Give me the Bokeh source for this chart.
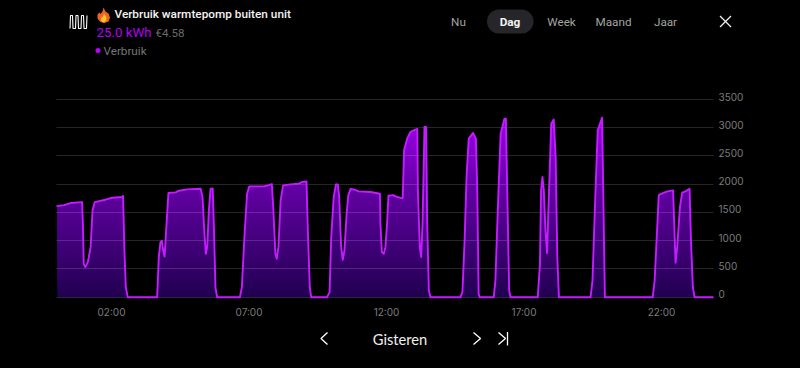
from bokeh.plotting import figure
from bokeh.embed import file_html
from bokeh.resources import INLINE
from bokeh.layouts import column
from bokeh.models import Range1d, FixedTicker, LinearAxis
from bokeh.core.properties import value

# ---- data ----
hours = [0.00,.27,.51,.93,.96,.99,1.05,1.14,1.24,1.31,1.39,1.78,2.02,2.39,2.42,2.47,2.52,2.59,
 3.66,3.72,3.78,3.83,3.88,3.93,3.98,4.07,4.33,4.45,4.75,5.24,5.31,5.38,5.43,5.48,5.54,5.60,5.68,5.72,5.78,5.84,
 6.67,6.74,6.84,6.93,7.01,7.54,7.72,7.83,7.88,7.96,8.01,8.07,8.15,8.24,8.51,8.81,8.93,9.09,9.14,9.21,9.26,
 9.84,9.93,9.99,10.08,10.16,10.23,10.28,10.35,10.41,10.47,10.55,10.61,10.69,10.81,10.99,11.42,11.76,11.78,11.83,11.90,11.96,
 12.02,12.07,12.24,12.33,12.57,12.59,12.64,12.75,12.87,13.05,13.12,13.14,13.21,13.26,13.31,13.38,13.44,13.48,13.54,13.60,
 14.69,14.76,14.84,14.91,14.99,15.15,15.25,15.30,15.35,15.39,15.90,15.96,16.05,16.15,16.29,16.34,16.39,16.46,16.51,
 17.50,17.58,17.62,17.67,17.72,17.78,17.84,17.89,17.99,18.08,18.15,18.21,18.27,
 19.42,19.49,19.60,19.68,19.84,19.88,19.94,
 21.68,21.75,21.82,21.90,21.96,22.21,22.42,22.47,22.51,22.57,22.67,22.75,22.87,23.02,23.07,23.14,23.20,23.89]
verbruik = [1613,1631,1667,1684,1300,591,532,620,886,1536,1684,1726,1761,1773,1797,827,177,0,
 0,709,975,999,827,721,1123,1844,1856,1885,1909,1920,1773,1123,768,886,1536,1915,1927,1300,177,0,
 0,177,1123,1832,1962,1962,1985,2003,1596,768,680,886,1714,1980,1998,2009,2039,2051,1182,177,0,
 0,89,1064,1773,1998,1998,1773,886,662,827,1477,1803,1915,1909,1873,1862,1832,1300,798,768,886,
 1300,1797,1808,1785,1749,1773,2600,2807,2925,2967,2979,1891,886,709,1300,3014,3014,1300,118,0,
 0,89,1005,2128,2807,2908,2807,1891,59,0,0,295,1596,2896,3162,3162,1891,118,0,
 0,591,1891,2128,1891,1182,780,1596,3073,3144,2482,709,0,
 0,295,1891,2955,3179,1891,0,
 0,295,1005,1803,1826,1873,1891,1182,609,886,1596,1850,1873,1920,1005,177,0,0]
y_ticks = [0, 500, 1000, 1500, 2000, 2500, 3000, 3500]
x_ticks = [2, 7, 12, 17, 22]
x_tick_labels = ["02:00", "07:00", "12:00", "17:00", "22:00"]
tabs = ["Nu", "Dag", "Week", "Maand", "Jaar"]
title = "Verbruik warmtepomp buiten unit"
total_kwh = "25.0 kWh"
total_cost = "€4.58"
legend_name = "Verbruik"
nav_label = "Gisteren"

PURPLE = "#c31cff"
X0, X1 = 0, 23.89

# ---- chart ----
p = figure(width=800, height=234, output_backend="svg", toolbar_location=None,
           x_range=Range1d(X0, X1), y_range=Range1d(-41, 3571),
           background_fill_color="#000000", border_fill_color="#000000",
           min_border_left=56, min_border_right=87, min_border_top=7, min_border_bottom=23,
           frame_width=657, frame_height=204, outline_line_color=None, frame_align=False)
p.extra_y_ranges["labels"] = Range1d(-94, 3518)

def lerp(a, b, t):
    return tuple(int(round(a[i] + (b[i] - a[i]) * t)) for i in range(3))
stops = [(0, (0x22, 0, 0x52)), (2000, (0x66, 0, 0xa8)), (3200, (0xa0, 0, 0xee))]
n = 64
edges = [3300 * i / n for i in range(n)]
cols = []
for e in edges:
    if e <= 2000:
        c = lerp(stops[0][1], stops[1][1], e / 2000)
    else:
        c = lerp(stops[1][1], stops[2][1], (e - 2000) / 1200)
    cols.append("#%02x%02x%02x" % c)
p.quad(left=X0 + 0.04, right=X1 - 0.04, bottom=edges, top=3300, fill_color=cols, line_color=None)
mask_x = [X0 - 1] + hours + [X1 + 1]
mask_y = [verbruik[0]] + verbruik + [verbruik[-1]]
p.varea(x=mask_x, y1=mask_y, y2=3700, fill_color="#000000")
line = p.line(hours, verbruik, line_color=PURPLE, line_width=1.9, line_join="round")
line.level = "annotation"

p.xaxis.ticker = FixedTicker(ticks=x_ticks)
p.xaxis.major_label_overrides = dict(zip(x_ticks, x_tick_labels))
p.yaxis.visible = False
ax = LinearAxis(ticker=FixedTicker(ticks=y_ticks), y_range_name="labels")
p.add_layout(ax, "right")
for a in (p.xaxis[0], ax):
    a.axis_line_color = None
    a.major_tick_line_color = None
    a.minor_tick_line_color = None
    a.major_tick_out = 0
    a.major_tick_in = 0
    a.major_label_text_color = "#7c7c7c"
    a.major_label_text_font = "Inter"
    a.major_label_text_font_size = "10px"
p.xaxis.major_label_standoff = 6
ax.major_label_standoff = 5
p.xgrid.visible = False
p.ygrid.ticker = FixedTicker(ticks=y_ticks)
p.ygrid.grid_line_color = "#ffffff"
p.ygrid.grid_line_alpha = 0.15
p.ygrid.grid_line_width = 1
p.ygrid.level = "guide"

# ---- header and footer, in window pixels ----
def strip(h, top):
    f = figure(width=800, height=h, output_backend="svg", toolbar_location=None,
               x_range=Range1d(0, 800), y_range=Range1d(top + h, top),
               background_fill_color="#000000", border_fill_color="#000000",
               min_border=0, outline_line_color=None, frame_align=False)
    f.axis.visible = False
    f.grid.visible = False
    return f

head = strip(88, 0)
foot = strip(46, 322)

def T(f, x, y, s, color="#ffffff", size=12.5, font="Roboto", style="normal", align="left"):
    f.text(x=[x], y=[y], text=[s], text_color=color, text_font_size=f"{size}px", text_font=value(font),
           text_font_style=style, text_align=align, text_baseline="middle")

# radiator icon
head.line([69.5, 70, 72, 72.5, 75, 75.5, 77.5, 78, 80.5, 81, 83, 83.5, 86, 86.5],
          [28, 15, 15, 28, 28, 15, 15, 28, 28, 15, 15, 28, 28, 15], line_color="#ffffff", line_width=1.1)
# flame icon
head.patch([103, 105, 108, 109.5, 108, 104, 100, 97, 97, 99, 100, 102],
           [7, 11, 13, 17, 21, 22.5, 21.5, 18, 14, 12, 13.5, 11], fill_color="#f0641e", line_color=None)
head.patch([103.5, 106, 105.5, 103, 100.5, 100.5, 102.5],
           [13, 17, 20.5, 22, 20.5, 17.5, 16], fill_color="#fbc02d", line_color=None)

T(head, 114, 13.5, title, "#f2f2f2", 11.8, "Roboto Medium")
T(head, 96, 32, total_kwh, "#b400f0", 13.3, "Roboto")
T(head, 155, 32, total_cost, "#6a6a6a", 11.6, "Roboto")
head.scatter([97.5], [50], size=5, fill_color="#c000ff", line_color=None)
T(head, 103, 50, legend_name, "#767676", 11.7, "Roboto")

head.line([498.5, 521], [21, 21], line_color="#26262a", line_width=24, line_cap="round")
for name, cx in zip(tabs, [458, 509.5, 561, 613, 665]):
    if name == "Dag":
        T(head, cx, 21, name, "#f2f2f2", 11.8, "Roboto", "bold", "center")
    else:
        T(head, cx, 21, name, "#a4a4a4", 11.7, "Roboto", "normal", "center")
head.line([719.5, 730.5], [15.5, 26.5], line_color="#f0f0f0", line_width=1.3)
head.line([730.5, 719.5], [15.5, 26.5], line_color="#f0f0f0", line_width=1.3)

foot.line([327, 320.5, 327], [332, 338, 344], line_color="#ffffff", line_width=1.3)
T(foot, 399.5, 338, nav_label, "#f0f0f0", 14.7, "Lato", "normal", "center")
foot.line([473, 480, 473], [332, 338, 344], line_color="#ffffff", line_width=1.3)
foot.line([498, 505, 498], [332, 338, 344], line_color="#ffffff", line_width=1.3)
foot.line([507, 507], [331.5, 345], line_color="#ffffff", line_width=1.3)

page = column(head, p, foot, spacing=0)
html = file_html(page, INLINE)
html = html.replace("<head>", "<head><style>html,body{background:#000;overflow:hidden}</style>", 1)
open("out.html", "w").write(html)
